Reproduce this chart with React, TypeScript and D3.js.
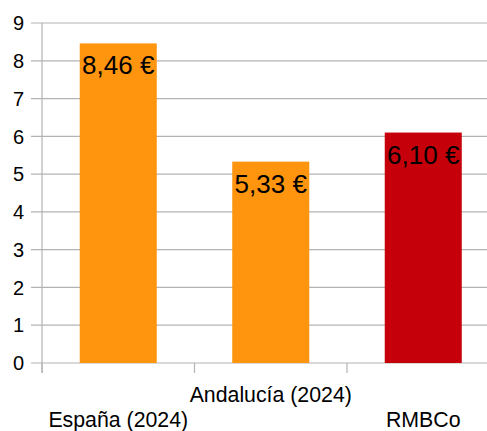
import React from "react";
import * as d3 from "d3";

const categories = ["España (2024)", "Andalucía (2024)", "RMBCo"];
const values = [8.46, 5.33, 6.1];
const valueLabels = ["8,46 €", "5,33 €", "6,10 €"];
const barColors = ["#ff950e", "#ff950e", "#c5000b"];
const yTicks = [0, 1, 2, 3, 4, 5, 6, 7, 8, 9];

export default function App() {
  const W = 487, H = 431;
  const x0 = 42, band = 152.5;
  const x = d3.scaleBand<string>().domain(categories).range([x0, x0 + band * 3]).padding(0);
  const y = d3.scaleLinear().domain([0, 9]).range([363, 23]);
  const bw = x.bandwidth() * 0.505;
  const font = "'Liberation Sans', Arial, sans-serif";
  const boundaries = [0, 1, 2, 3].map((i) => x0 + i * x.bandwidth());
  return (
    <svg width={W} height={H} style={{ position: "absolute", left: 0, top: 0 }} fontFamily={font}>
      <rect width={W} height={H} fill="#fff" />
      {yTicks.map((t) => (
        <g key={t}>
          <line x1={31} x2={W} y1={y(t)} y2={y(t)} stroke="#b3b3b3" strokeWidth={1.2} />
          <text x={24} y={y(t)} dy="0.36em" textAnchor="end" fontSize={20} fill="#000">{t}</text>
        </g>
      ))}
      <line x1={x0} x2={x0} y1={y(9)} y2={y(0) + 10} stroke="#b3b3b3" strokeWidth={1.2} />
      {boundaries.map((b, i) => (
        <line key={i} x1={b} x2={b} y1={y(0)} y2={y(0) + 10} stroke="#b3b3b3" strokeWidth={1.2} />
      ))}
      {categories.map((c, i) => {
        const cx = (x(c) as number) + x.bandwidth() / 2;
        return (
          <g key={c}>
            <rect x={cx - bw / 2} y={y(values[i])} width={bw} height={y(0) - y(values[i])} fill={barColors[i]} />
            <text x={cx} y={y(values[i]) + 31} textAnchor="middle" fontSize={26} fill="#000">{valueLabels[i]}</text>
            <text x={cx} y={i % 2 === 1 ? 402 : 426.5} textAnchor="middle" fontSize={21.3} fill="#000">{c}</text>
          </g>
        );
      })}
    </svg>
  );
}
